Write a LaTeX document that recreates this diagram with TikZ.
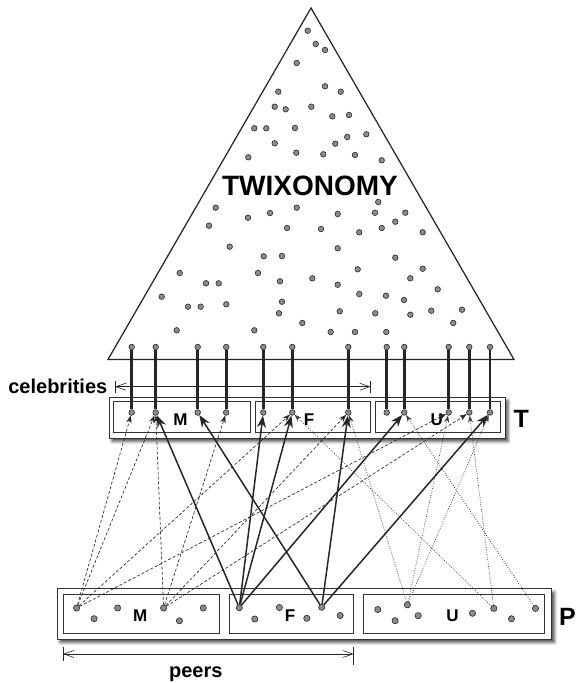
\documentclass[tikz,border=0pt]{standalone}
\usepackage{fontspec}
\setmainfont{Liberation Sans}
\usetikzlibrary{arrows.meta,shadows.blur}

\begin{document}
\begin{tikzpicture}[x=1pt,y=-1pt,
  dot/.style={circle,inner sep=0pt,minimum size=5.6pt,draw=black!85,fill=black!45,line width=0.6pt},
  peer/.style={dot,minimum size=6.2pt},
  frame/.style={draw=black!80,line width=1pt,fill=white,anchor=north west,inner sep=0pt,
    blur shadow={shadow xshift=3pt,shadow yshift=-3.5pt,shadow blur radius=3pt,shadow opacity=70}},
  group/.style={draw=black!80,line width=0.75pt,anchor=north west,inner sep=0pt},
  pin/.style={line width=2.6pt,black!85},
  follow/.style={line width=1.5pt,black!85,-{Stealth[length=12pt,width=9pt]}},
  dfollow/.style={line width=0.65pt,black!85,dash pattern=on 3pt off 2pt,-{Stealth[length=7.5pt,width=5.5pt]}},
  ufollow/.style={line width=0.75pt,black!75,dash pattern=on 0.8pt off 1.6pt,-{Stealth[length=7pt,width=5pt]}},
  dim/.style={line width=0.6pt,black!85},
  span/.style={dim,{Straight Barb[length=10pt,width=7pt]}-{Straight Barb[length=10pt,width=7pt]}},
  glabel/.style={font=\bfseries\fontsize{17}{17}\selectfont,anchor=base,inner sep=0pt},
  biglabel/.style={font=\bfseries\fontsize{25}{25}\selectfont,anchor=base west,inner sep=0pt},
  caption/.style={font=\bfseries\fontsize{20}{20}\selectfont,inner sep=0pt}
]
\useasboundingbox (0,0) rectangle (576,683);

% taxonomy triangle
\draw[line width=1.25pt,black!85,line join=miter] (311,8) -- (514,359.5) -- (108,359.5) -- cycle;
\node[font=\bfseries\fontsize{28}{28}\selectfont,anchor=base,inner sep=0pt] (title) at (310,195) {TWIXONOMY};

\foreach \x/\y [count=\i] in {
 307.7/30.7,315.7/44,325/50,296.7/63,278.3/91.7,325/86.3,340.7/91.7,274.7/106.7,285.7/109.3,
 311.3/106.7,332.3/116.3,349/115,254.3/128.3,266.3/128.3,295/128,347.3/137,366.3/134.3,
 274.7/143.3,335.3/143.7,296.3/152.7,323.3/154.3,355/155,248.3/157.3,381.7/160.3,
 378.3/202,215.7/207.7,296.7/207.7,270/213,375/212.7,405.3/212.7,248/217.7,337.7/214,
 209/225.7,287/228,321/229,381.7/228,395.3/221.7,359.3/232.3,422.7/232.3,229.7/246.7,
 337.7/248.3,263.7/256.3,282/256,395.3/257.7,179.7/273,258/273,357.7/269.3,422.7/268.7,
 206/283.3,218.7/283.3,280/281.3,312.3/278.3,337.7/284.7,410.3/278.3,437.7/289.3,
 161.7/296.7,359.3/294,386/295.7,404/300,188/306.7,200.7/306.7,226.3/304.3,282/301.7,
 279/313.3,339.7/311.3,375.3/313.3,410.3/314.7,431.3/310.7,462/309.7,176.7/330.3,
 254.3/330.3,302.3/323,453.3/323,330.7/332,355/332,386.3/332}
  \node[dot] (d\i) at (\x,\y) {};

% celebrity layer T
\node[frame,minimum width=396pt,minimum height=41pt] (Tbox) at (108.5,396.5) {};
\node[group,minimum width=137pt,minimum height=31pt] (TM) at (113,401) {};
\node[group,minimum width=115pt,minimum height=31pt] (TF) at (255,401) {};
\node[group,minimum width=125pt,minimum height=31pt] (TU) at (375,401) {};
\node[glabel] (TMl) at (180.5,425) {M};
\node[glabel] (TFl) at (309,425) {F};
\node[glabel] (TUl) at (436.7,425) {U};
\node[biglabel] (Tl) at (513.5,427) {T};

% peer layer P
\node[frame,minimum width=494.5pt,minimum height=50.5pt] (Pbox) at (56.5,588) {};
\node[group,minimum width=155.5pt,minimum height=39pt] (PM) at (63,594) {};
\node[group,minimum width=124.3pt,minimum height=39pt] (PF) at (228.7,594) {};
\node[group,minimum width=180.2pt,minimum height=39pt] (PU) at (363.3,594) {};
\node[glabel] (PMl) at (140.3,621.7) {M};
\node[glabel] (PFl) at (290,621.7) {F};
\node[glabel] (PUl) at (452.5,621.7) {U};
\node[biglabel] (Pl) at (559,625) {P};

% celebrities: pins in the taxonomy and their accounts in T
\foreach \x [count=\i] in {131.7,155.7,197.7,226.2,263.3,292.3,348.3,386.7,404.3,448.7,469.3,490} {
  \node[dot] (a\i) at (\x,347) {};
  \node[dot] (t\i) at (\x,412.5) {};
  \draw[pin] (a\i) -- (t\i);
}

% peers in P
\foreach \x/\y/\n in {76.6/608/pm1,94.1/618.7/pm2,117.6/608/pm3,163.6/608/pm4,179.4/620.8/pm5,203.3/608/pm6,
  239.3/607.7/pf1,254.8/619/pf2,279.4/607.5/pf3,306.8/618.3/pf4,321.7/607.3/pf5,340.2/615.5/pf6,
  377.8/609.5/pu1,395.1/620.7/pu2,407.4/604.8/pu3,418.2/615.7/pu4,472.5/613.3/pu5,493.8/608.4/pu6,
  511.5/618.8/pu7,535.5/608.4/pu8}
  \node[peer] (\n) at (\x,\y) {};

% follow links from peers to celebrities
\foreach \s/\t in {pm1/t1,pm1/t2,pm1/t6,pm1/t10,pm4/t2,pm4/t4,pm4/t7,pm4/t11}
  \draw[dfollow] (\s) -- (\t);
\foreach \s/\t in {pu3/t7,pu3/t10,pu3/t12,pu6/t6,pu6/t11,pu8/t9}
  \draw[ufollow] (\s) -- (\t);
\foreach \s/\t in {pf1/t2,pf1/t5,pf1/t6,pf1/t9,pf5/t3,pf5/t7,pf5/t12}
  \draw[follow] (\s) -- (\t);

% extent markers
\node[caption,anchor=base east] (cel) at (107.5,393.5) {celebrities};
\coordinate (cl) at (115,386.7);
\coordinate (cr) at (370.6,386.7);
\draw[span] (cl) -- (cr);
\draw[dim] ([yshift=-6.5pt]cl) -- ([yshift=6pt]cl);
\draw[dim] ([yshift=-6.5pt]cr) -- ([yshift=6pt]cr);

\coordinate (pl) at (63,654);
\coordinate (pr) at (353.7,654);
\draw[span] (pl) -- (pr);
\draw[dim] ([yshift=-7pt]pl) -- ([yshift=7pt]pl);
\draw[dim] ([yshift=-11pt]pr) -- ([yshift=7pt]pr);
\node[caption,anchor=base] (peers) at (195.8,677) {peers};
\end{tikzpicture}
\end{document}
